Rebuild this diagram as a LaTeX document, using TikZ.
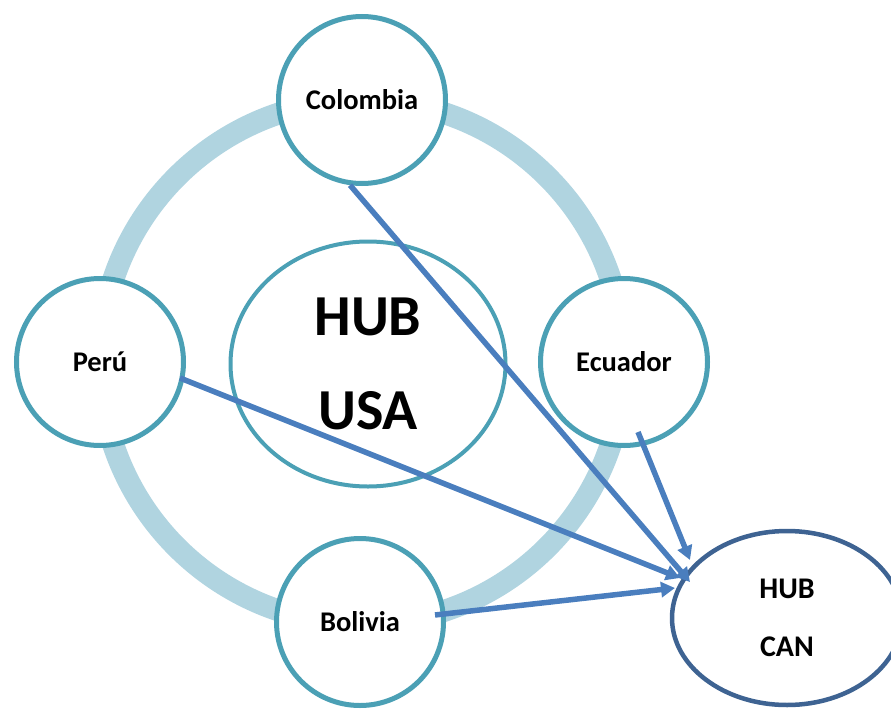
\documentclass[tikz,border=0pt]{standalone}
\usepackage{fontspec}
\setmainfont{Carlito}
\usetikzlibrary{arrows.meta,calc,shapes.geometric}
\definecolor{ringc}{RGB}{176,212,224}
\definecolor{circc}{RGB}{75,160,181}
\definecolor{arrc}{RGB}{74,126,190}
\definecolor{canc}{RGB}{62,99,146}
\begin{document}
\begin{tikzpicture}[x=1pt,y=-1pt,
  country/.style={circle,draw=circc,line width=5pt,fill=white,minimum size=167pt,inner sep=0pt,font=\fontsize{28.5}{32}\selectfont\bfseries},
  hubusa/.style={ellipse,draw=circc,line width=4pt,fill=white,minimum width=275pt,minimum height=245pt,inner sep=0pt,align=center,font=\fontsize{58}{94}\selectfont\bfseries},
  hubcan/.style={ellipse,draw=canc,line width=4.5pt,fill=white,minimum width=230pt,minimum height=174pt,inner sep=0pt,align=center,font=\fontsize{30}{58}\selectfont\bfseries},
  link/.style={draw=arrc,line width=5.5pt,-{Triangle[length=14pt,width=15pt]}}]
\useasboundingbox (0,0) rectangle (891,709);
\node[circle,draw=ringc,line width=22pt,minimum size=524pt,inner sep=0pt] (ring) at (362,362) {};
\node[hubusa] (usa) at (368,364) {HUB\\USA};
\node[country] (col) at (362,100) {Colombia};
\node[country] (peru) at (100,362) {Perú};
\node[country] (ecu) at (624,362) {Ecuador};
\node[country] (bol) at (360,622) {Bolivia};
\node[hubcan] (can) at (787,618) {HUB\\CAN};
\draw[link] (col.-98) -- ($(can.center)+(-97,-36)$);
\draw[link] ($(peru.center)+(80,16)$) -- ($(can.center)+(-107,-40)$);
\draw[link] ($(ecu.center)+(14,70)$) -- ($(can.center)+(-97,-58)$);
\draw[link] ($(bol.center)+(75,-7)$) -- ($(can.center)+(-112,-30)$);
\end{tikzpicture}
\end{document}
